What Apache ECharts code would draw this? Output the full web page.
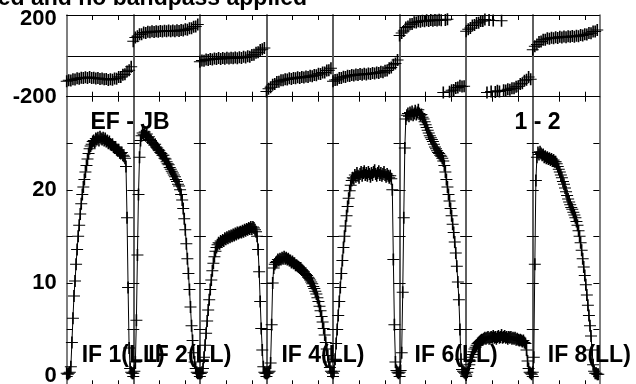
<!DOCTYPE html>
<html><head><meta charset="utf-8">
<script src="https://cdn.jsdelivr.net/npm/echarts@6/dist/echarts.min.js"></script>
<style>html,body{margin:0;padding:0;background:#fff}#c{width:636px;height:384px}</style>
</head><body><div id="c"></div>
<script>
// ---------------- data ----------------
const titleText = 'ed and no bandpass applied';
const baselineLabels = ['EF - JB', '1 - 2'];
const ifLabels = ['IF 1(LL)', 'IF 2(LL)', 'IF 3(LL)', 'IF 4(LL)', 'IF 5(LL)', 'IF 6(LL)', 'IF 7(LL)', 'IF 8(LL)'];
const ifLabelShown = [true, true, false, true, false, true, false, true];
const nChannels = 128;
const ampStep = 2;     // amplitude samples every 2 channels
const phaseStep = 4;   // phase samples every 4 channels
const chanTicks = [50, 100];
const ampTicks = [0, 5, 10, 15, 20, 25];
const ampTickLabels = [0, 10, 20];

const amp1 = [0.3,0.2,0.3,0.4,1.0,3.6,6.2,8.6,10.2,12.0,13.6,15.0,16.2,17.4,18.5,19.5,20.3,21.1,21.9,22.6,23.3,23.9,24.4,24.7,24.9,25.2,25.3,25.1,25.5,25.4,25.6,25.3,25.7,25.5,25.4,25.6,25.3,25.5,25.2,25.3,25.0,25.2,24.9,24.8,24.9,24.6,24.5,24.6,24.3,24.2,24.3,24.0,23.9,24.0,23.7,23.6,23.4,22.5,17.0,9.5,3.0,0.8,0.4,0.3];
const amp2 = [0.3,0.5,1.5,6.0,13.0,19.5,23.5,25.3,25.8,26.1,25.9,26.2,25.8,26.0,25.6,25.7,25.4,25.3,25.1,25.0,24.8,24.9,24.6,24.5,24.3,24.2,24.0,23.9,23.7,23.7,23.4,23.3,23.0,22.8,22.7,22.4,22.2,22.0,21.8,21.6,21.4,21.1,20.9,20.6,20.4,20.0,19.5,18.9,18.0,16.9,15.7,14.2,12.6,11.0,9.3,7.4,5.4,3.8,2.5,1.5,0.8,0.4,0.3,0.3];
const amp3 = [0.3,0.3,0.4,0.8,2.0,3.3,4.6,5.9,7.1,8.2,9.3,10.3,11.3,12.1,12.8,13.4,13.8,14.1,14.3,14.2,14.5,14.4,14.6,14.5,14.8,14.7,14.9,14.8,15.0,14.9,15.1,15.0,15.2,15.1,15.3,15.2,15.4,15.3,15.4,15.5,15.4,15.6,15.5,15.7,15.6,15.8,15.7,15.9,15.8,16.0,15.8,16.0,15.9,15.7,15.5,15.0,13.6,11.2,8.0,5.1,2.8,1.0,0.4,0.3];
const amp4 = [0.3,0.3,0.4,0.5,1.4,5.5,10.0,11.6,12.0,12.2,12.3,12.5,12.4,12.6,12.5,12.7,12.6,12.8,12.6,12.7,12.5,12.6,12.4,12.4,12.2,12.3,12.1,12.1,11.9,11.9,11.8,11.7,11.6,11.6,11.4,11.3,11.2,11.0,10.9,10.8,10.6,10.5,10.3,10.1,9.9,9.6,9.4,9.1,8.8,8.4,8.0,7.5,7.0,6.4,5.8,5.1,4.4,3.6,2.9,2.2,1.5,0.9,0.5,0.4];
const amp5 = [0.3,0.5,1.8,3.5,5.0,6.5,8.0,9.5,11.0,12.4,13.8,15.0,16.1,17.2,18.2,19.1,19.9,20.5,21.0,21.3,21.2,21.6,21.4,21.8,21.5,21.3,21.7,21.9,21.5,21.8,22.0,21.6,21.8,21.5,21.9,21.7,21.4,21.8,21.6,21.9,22.1,21.7,21.5,21.8,22.0,21.6,21.8,21.5,21.7,21.9,21.6,21.4,21.7,21.5,21.3,21.5,21.2,20.0,12.5,5.5,1.5,0.6,0.4,0.3];
const amp6 = [0.4,0.6,2.5,9.0,17.0,24.5,27.6,28.0,28.2,27.9,28.3,28.1,28.4,28.0,28.2,28.5,28.1,28.3,28.6,28.2,28.0,28.1,27.8,27.6,27.3,27.0,26.7,26.4,26.1,25.8,25.6,25.4,25.2,24.9,24.6,24.4,24.2,24.0,23.9,23.7,23.6,23.4,23.1,22.6,21.9,21.1,20.3,19.5,18.8,18.0,17.2,16.3,15.4,14.4,13.2,11.8,10.1,8.2,5.0,1.8,0.7,0.5,0.4,0.3];
const amp7 = [0.1,0.4,0.8,1.2,1.6,2.0,2.3,2.6,2.9,3.1,3.3,3.5,3.6,3.7,3.8,3.9,3.9,4.0,4.1,4.0,4.1,4.2,4.0,4.1,4.2,4.1,4.3,4.1,4.2,4.0,4.2,4.3,4.1,4.2,4.4,4.1,4.2,4.3,4.1,4.2,4.0,4.2,4.1,4.2,4.0,4.1,4.0,4.1,3.9,4.0,3.9,3.8,3.9,3.8,3.7,3.8,3.6,3.5,2.8,1.6,0.8,0.4,0.3,0.2];
const amp8 = [0.4,2.0,12.0,21.0,23.5,24.0,23.8,24.1,23.9,23.7,23.8,23.5,23.6,23.4,23.5,23.3,23.4,23.2,23.3,23.1,23.2,23.0,23.0,22.8,22.5,22.2,21.9,21.6,21.3,20.9,20.6,20.2,19.8,19.4,19.0,18.7,18.4,18.1,17.9,17.6,17.3,17.0,16.6,16.2,15.6,15.0,14.3,13.5,12.6,11.7,10.8,9.8,8.7,7.6,6.5,5.4,4.3,2.8,1.2,0.5,0.3,0.3,0.2,0.2];

const ph1 = [-124,-120,-121,-115,-116,-110,-112,-107,-109,-105,-109,-104,-109,-107,-111,-109,-113,-111,-115,-113,-118,-114,-117,-111,-112,-104,-103,-93,-90,-77,-70,-53];
const ph2 = [72,90,96,106,106,114,112,118,115,120,117,121,118,122,119,123,120,124,120,124,121,125,122,127,124,130,128,135,135,143,144,154];
const ph3 = [-29,-23,-24,-18,-20,-15,-18,-13,-16,-11,-15,-10,-14,-9,-13,-9,-12,-8,-12,-7,-10,-5,-8,-2,-4,4,5,15,18,29,32,38];
const ph4 = [-175,-161,-154,-141,-138,-128,-127,-119,-120,-114,-116,-110,-113,-108,-110,-105,-108,-103,-106,-101,-104,-98,-100,-94,-95,-88,-89,-81,-81,-72,-71,-61];
const ph5 = [-124,-118,-117,-109,-109,-102,-103,-97,-99,-94,-96,-91,-94,-89,-92,-88,-91,-86,-89,-84,-87,-82,-84,-78,-80,-73,-72,-61,-57,-44,-37,-20];
const ph6 = [100,112,122,139,144,155,156,164,163,169,167,172,169,174,171,175,172,176,173,177,174,-179,176,179,-176,-168,-167,-157,-155,-147,-150,-149];
const ph7 = [120,130,136,148,151,161,162,171,171,178,-179,176,-175,173,-177,-171,-174,172,-168,-170,-164,-166,-159,-159,-151,-149,-138,-134,-122,-117,-104,-114];
const ph8 = [30,47,56,68,70,79,79,86,84,89,86,91,88,93,90,95,91,96,93,97,94,99,96,102,100,106,104,112,111,119,119,126];

const ampSeries = [amp1, amp2, amp3, amp4, amp5, amp6, amp7, amp8];
const phaseSeries = [ph1, ph2, ph3, ph4, ph5, ph6, ph7, ph8];

// ---------------- layout ----------------
const FONT = '"Liberation Sans", Arial, Helvetica, sans-serif';
const PLUS = 'path://M5.2,0H6.8V12H5.2ZM0,5.5H12V6.5H0Z';
const L0 = 66.7, PW = 66.58;
const PH_TOP = 15, PH_H = 81.7;
const AM_TOP = 96.7, AM_H = 288.6;
const BORDER = '#555';

const grid = [], xAxis = [], yAxis = [], series = [];
const nPanels = ampSeries.length;

function xAx(g, pos) {
  return {gridIndex: g, type: 'value', min: 0, max: nChannels, position: pos,
    axisLine: {show: true, onZero: false, lineStyle: {color: '#000', width: 1}},
    axisTick: {show: true, inside: true, length: 5, customValues: chanTicks, lineStyle: {color: '#000', width: 1}},
    axisLabel: {show: false}, splitLine: {show: false}};
}

for (let k = 0; k < 2 * nPanels; k++) {
  const isPhase = k < nPanels;
  const i = isPhase ? k : k - nPanels;
  grid.push({left: L0 + i * PW, width: PW, top: isPhase ? PH_TOP : AM_TOP, height: isPhase ? PH_H : AM_H,
    containLabel: false, outerBoundsMode: 'none'});
  xAxis.push(xAx(k, 'bottom'));
  xAxis.push(xAx(k, 'top'));
  for (const pos of ['left', 'right']) {
    const showLab = (i === 0 && pos === 'left');
    if (isPhase) {
      yAxis.push({gridIndex: k, type: 'value', min: -200, max: 200, interval: 200, position: pos,
        axisLine: {show: true, onZero: false, lineStyle: {color: BORDER, width: 1.5}},
        axisTick: {show: false},
        splitLine: {show: pos === 'left', lineStyle: {color: '#000', width: 1}},
        axisLabel: {show: showLab, margin: 10, fontFamily: FONT, fontWeight: 'bold', fontSize: 22, color: '#000',
          formatter: v => (v === 200 ? '{t|200}' : (v === -200 ? '-200' : '')),
          rich: {t: {fontFamily: FONT, fontWeight: 'bold', fontSize: 22, color: '#000', padding: [7, 0, 0, 0]}}}});
    } else {
      yAxis.push({gridIndex: k, type: 'value', min: -1, max: 30, position: pos,
        axisLine: {show: true, onZero: false, lineStyle: {color: BORDER, width: 1.5}},
        axisTick: {show: true, inside: true, length: 6, customValues: ampTicks, lineStyle: {color: '#000', width: 1}},
        splitLine: {show: false},
        axisLabel: {show: showLab, margin: 10, customValues: ampTickLabels, fontFamily: FONT, fontWeight: 'bold', fontSize: 22, color: '#000'}});
    }
  }
  if (isPhase) {
    series.push({type: 'scatter', xAxisIndex: 2 * k, yAxisIndex: 2 * k, silent: true, animation: false,
      symbol: PLUS, symbolSize: 12,
      itemStyle: {color: '#000', borderWidth: 0, opacity: 1},
      data: phaseSeries[i].map((v, j) => [j * phaseStep, v])});
  } else {
    series.push({type: 'line', xAxisIndex: 2 * k, yAxisIndex: 2 * k, silent: true, animation: false,
      symbol: PLUS, symbolSize: 12, showSymbol: true, showAllSymbol: true, clip: false,
      lineStyle: {color: '#000', width: 1},
      itemStyle: {color: '#000', borderWidth: 0},
      data: ampSeries[i].map((v, j) => [j * ampStep, v])});
  }
}

const TXT = 'bold 23px ' + FONT;
const graphic = [
  {type: 'text', x: 307, y: -1, z: 100, style: {text: titleText, font: 'bold 23px ' + FONT, fill: '#000', textAlign: 'right', textVerticalAlign: 'middle'}},
  {type: 'text', x: 130, y: 122.5, z: 100, style: {text: baselineLabels[0], font: TXT, fill: '#000', textAlign: 'center', textVerticalAlign: 'middle'}},
  {type: 'text', x: 537.5, y: 122.5, z: 100, style: {text: baselineLabels[1], font: TXT, fill: '#000', textAlign: 'center', textVerticalAlign: 'middle'}}
];
ifLabels.forEach((t, i) => {
  if (!ifLabelShown[i]) return;
  graphic.push({type: 'text', x: L0 + i * PW + 15, y: 356, z: 100,
    style: {text: t, font: TXT, fill: '#000', textAlign: 'left', textVerticalAlign: 'middle'}});
});

const chart = echarts.init(document.getElementById('c'), null, {renderer: 'canvas'});
chart.setOption({animation: false, backgroundColor: '#fff', grid, xAxis, yAxis, series, graphic});
</script></body></html>
